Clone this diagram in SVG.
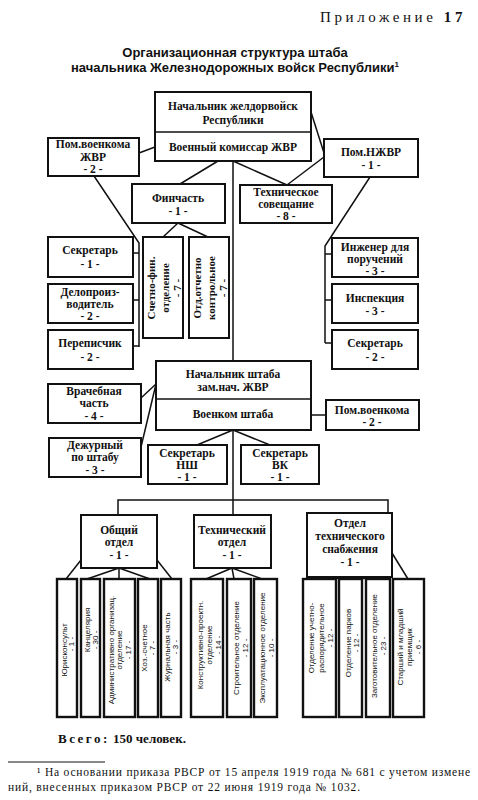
<svg xmlns="http://www.w3.org/2000/svg" width="478" height="800" viewBox="0 0 478 800">
<style>
.bx{fill:#fff;stroke:#111;stroke-width:2}
.sb{fill:#fff;stroke:#111;stroke-width:2.4}
.ln{stroke:#111;stroke-width:1.5;fill:none}
.t{font-family:"Liberation Serif",serif;font-weight:bold;font-size:11.5px;text-anchor:middle;fill:#111}
.tv{font-family:"Liberation Serif",serif;font-weight:bold;font-size:11px;text-anchor:middle;fill:#111}
.v{font-family:"Liberation Sans",sans-serif;font-size:8px;text-anchor:middle;fill:#111}
.ti{font-family:"Liberation Sans",sans-serif;font-weight:bold;font-size:13px;text-anchor:middle;fill:#111}
.fn{font-family:"Liberation Serif",serif;font-size:11.5px;fill:#111}
</style>
<rect width="478" height="800" fill="#fff"/>
<text x="320" y="22" style="font-family:'Liberation Serif',serif;font-size:15px;letter-spacing:3.6px;fill:#111">Приложение <tspan font-weight="bold">17</tspan></text>
<text class="ti" x="235" y="57">Организационная структура штаба</text>
<text class="ti" x="235" y="72">начальника Железнодорожных войск Республики<tspan font-size="8" dy="-5">1</tspan></text>

<g id="connectors">
<line class="ln" x1="233" y1="161" x2="233" y2="361"/>
<line class="ln" x1="139" y1="153" x2="155" y2="147"/>
<line class="ln" x1="311" y1="112" x2="324" y2="153"/>
<line class="ln" x1="324" y1="157" x2="287" y2="185"/>
<line class="ln" x1="233" y1="161" x2="287" y2="185"/>
<line class="ln" x1="218" y1="161" x2="180" y2="184"/>
<line class="ln" x1="178" y1="223" x2="163" y2="237"/>
<line class="ln" x1="178" y1="223" x2="208" y2="237"/>
<polyline class="ln" points="94,176 139,243 139,347"/>
<line class="ln" x1="133" y1="253" x2="139" y2="253"/>
<line class="ln" x1="133" y1="300" x2="139" y2="300"/>
<line class="ln" x1="133" y1="346" x2="139" y2="346"/>
<polyline class="ln" points="370,177 325,246 325,343"/>
<line class="ln" x1="325" y1="254" x2="332" y2="254"/>
<line class="ln" x1="325" y1="300" x2="332" y2="300"/>
<line class="ln" x1="325" y1="343" x2="332" y2="343"/>
<line class="ln" x1="141" y1="398" x2="156" y2="384"/>
<line class="ln" x1="141" y1="447" x2="156" y2="384"/>
<line class="ln" x1="311" y1="415" x2="326" y2="415"/>
<line class="ln" x1="233" y1="430" x2="197" y2="445"/>
<line class="ln" x1="233" y1="430" x2="270" y2="445"/>
<line class="ln" x1="233" y1="430" x2="233" y2="500"/>
<polyline class="ln" points="118,514 118,500 388,500 388,513"/>
<line class="ln" x1="233" y1="500" x2="233" y2="515"/>
<line class="ln" x1="119" y1="568" x2="87" y2="579"/>
<line class="ln" x1="119" y1="568" x2="119" y2="579"/>
<line class="ln" x1="119" y1="568" x2="150" y2="579"/>
<line class="ln" x1="81" y1="560" x2="66" y2="579"/>
<line class="ln" x1="157" y1="560" x2="172" y2="579"/>
<line class="ln" x1="232" y1="568" x2="206" y2="579"/>
<line class="ln" x1="232" y1="568" x2="234" y2="579"/>
<line class="ln" x1="232" y1="568" x2="262" y2="579"/>
<line class="ln" x1="350" y1="577" x2="320" y2="580"/>
<line class="ln" x1="350" y1="577" x2="350" y2="580"/>
<line class="ln" x1="350" y1="577" x2="380" y2="580"/>
<line class="ln" x1="392" y1="553" x2="408" y2="579"/>
</g>

<g id="n-chief">
<rect class="bx" x="155" y="92" width="156" height="69"/>
<line class="ln" x1="155" y1="132" x2="311" y2="132" stroke-width="2"/>
<text class="t" x="233" y="110" font-size="12">Начальник желдорвойск</text>
<text class="t" x="233" y="124" font-size="12">Республики</text>
<text class="t" x="233" y="151" font-size="12">Военный комиссар ЖВР</text>
</g>
<g id="n-pomvoenkom">
<rect class="bx" x="48" y="138" width="91" height="38"/>
<text class="t" x="93" y="148">Пом.военкома</text>
<text class="t" x="93" y="161">ЖВР</text>
<text class="t" x="93" y="173">- 2 -</text>
</g>
<g id="n-pomnzhvr">
<rect class="bx" x="324" y="139" width="94" height="38"/>
<text class="t" x="371" y="156">Пом.НЖВР</text>
<text class="t" x="371" y="169">- 1 -</text>
</g>
<g id="n-finchast">
<rect class="bx" x="132" y="184" width="93" height="39"/>
<text class="t" x="178" y="202">Финчасть</text>
<text class="t" x="178" y="215">- 1 -</text>
</g>
<g id="n-tehsov">
<rect class="bx" x="240" y="185" width="92" height="38"/>
<text class="t" x="286" y="196">Техническое</text>
<text class="t" x="286" y="208">совещание</text>
<text class="t" x="286" y="220">- 8 -</text>
</g>
<g id="n-sekr1">
<rect class="bx" x="48" y="237" width="85" height="40"/>
<text class="t" x="90" y="254">Секретарь</text>
<text class="t" x="90" y="268">- 1 -</text>
</g>
<g id="n-delo">
<rect class="bx" x="48" y="284" width="85" height="39"/>
<text class="t" x="90" y="296">Делопроиз-</text>
<text class="t" x="90" y="308">водитель</text>
<text class="t" x="90" y="320">- 2 -</text>
</g>
<g id="n-perep">
<rect class="bx" x="48" y="330" width="85" height="39"/>
<text class="t" x="90" y="347">Переписчик</text>
<text class="t" x="90" y="361">- 2 -</text>
</g>
<g id="n-schetno">
<rect class="bx" x="143" y="237" width="40" height="101"/>
<text class="tv" transform="rotate(-90 155 288)" x="155" y="288">Счетно-фин.</text>
<text class="tv" transform="rotate(-90 169 288)" x="169" y="288">отделение</text>
<text class="tv" transform="rotate(-90 181 288)" x="181" y="288">- 7 -</text>
</g>
<g id="n-otdotch">
<rect class="bx" x="189" y="237" width="40" height="101"/>
<text class="tv" transform="rotate(-90 201 288)" x="201" y="288">Отд.отчетно</text>
<text class="tv" transform="rotate(-90 215 288)" x="215" y="288">контрольное</text>
<text class="tv" transform="rotate(-90 227 288)" x="227" y="288">- 7 -</text>
</g>
<g id="n-inzh">
<rect class="bx" x="332" y="238" width="86" height="39"/>
<text class="t" x="375" y="251">Инженер для</text>
<text class="t" x="375" y="263">поручений</text>
<text class="t" x="375" y="275">- 3 -</text>
</g>
<g id="n-insp">
<rect class="bx" x="332" y="284" width="86" height="39"/>
<text class="t" x="375" y="302">Инспекция</text>
<text class="t" x="375" y="315">- 3 -</text>
</g>
<g id="n-sekr2">
<rect class="bx" x="332" y="330" width="86" height="39"/>
<text class="t" x="375" y="347">Секретарь</text>
<text class="t" x="375" y="361">- 2 -</text>
</g>
<g id="n-nsh">
<rect class="bx" x="156" y="361" width="155" height="69"/>
<line class="ln" x1="156" y1="399" x2="311" y2="399" stroke-width="2"/>
<text class="t" x="233" y="378">Начальник штаба</text>
<text class="t" x="233" y="391">зам.нач. ЖВР</text>
<text class="t" x="233" y="418">Военком штаба</text>
</g>
<g id="n-vrach">
<rect class="bx" x="48" y="384" width="93" height="39"/>
<text class="t" x="94" y="395">Врачебная</text>
<text class="t" x="94" y="407">часть</text>
<text class="t" x="94" y="420">- 4 -</text>
</g>
<g id="n-dezh">
<rect class="bx" x="49" y="438" width="92" height="39"/>
<text class="t" x="95" y="449">Дежурный</text>
<text class="t" x="95" y="461">по штабу</text>
<text class="t" x="95" y="474">- 3 -</text>
</g>
<g id="n-pomvoenkom2">
<rect class="bx" x="326" y="400" width="93" height="30"/>
<text class="t" x="372" y="414">Пом.военкома</text>
<text class="t" x="372" y="426">- 2 -</text>
</g>
<g id="n-sekrnsh">
<rect class="bx" x="148" y="445" width="79" height="39"/>
<text class="t" x="187" y="457">Секретарь</text>
<text class="t" x="187" y="469">НШ</text>
<text class="t" x="187" y="481">- 1 -</text>
</g>
<g id="n-sekrvk">
<rect class="bx" x="241" y="445" width="78" height="39"/>
<text class="t" x="280" y="457">Секретарь</text>
<text class="t" x="280" y="469">ВК</text>
<text class="t" x="280" y="481">- 1 -</text>
</g>
<g id="n-obshiy">
<rect class="bx" x="81" y="515" width="76" height="53"/>
<text class="t" x="119" y="534">Общий</text>
<text class="t" x="119" y="546">отдел</text>
<text class="t" x="119" y="559">- 1 -</text>
</g>
<g id="n-tehotd">
<rect class="bx" x="194" y="515" width="77" height="53"/>
<text class="t" x="232" y="534">Технический</text>
<text class="t" x="232" y="546">отдел</text>
<text class="t" x="232" y="559">- 1 -</text>
</g>
<g id="n-snab">
<rect class="bx" x="307" y="513" width="85" height="64"/>
<text class="t" x="350" y="527">Отдел</text>
<text class="t" x="350" y="540">технического</text>
<text class="t" x="350" y="553">снабжения</text>
<text class="t" x="350" y="566">- 1 -</text>
</g>

<g id="n-b1"><rect class="sb" x="57" y="579" width="20" height="138"/>
<text class="v" transform="rotate(-90 67 650)" x="67" y="650">Юрисконсульт</text>
<text class="v" transform="rotate(-90 74 644)" x="74" y="644">- 1 -</text></g>
<g id="n-b2"><rect class="sb" x="81" y="579" width="19" height="138"/>
<text class="v" transform="rotate(-90 90 630)" x="90" y="630">Канцелярия</text>
<text class="v" transform="rotate(-90 98 640)" x="98" y="640">- 30 -</text></g>
<g id="n-b3"><rect class="sb" x="104" y="579" width="31" height="138"/>
<text class="v" transform="rotate(-90 114 650)" x="114" y="650">Административно организац.</text>
<text class="v" transform="rotate(-90 122 650)" x="122" y="650">отделение</text>
<text class="v" transform="rotate(-90 131 650)" x="131" y="650">- 17 -</text></g>
<g id="n-b4"><rect class="sb" x="138" y="579" width="20" height="138"/>
<text class="v" transform="rotate(-90 147 648)" x="147" y="648">Хоз.-счетное</text>
<text class="v" transform="rotate(-90 155 648)" x="155" y="648">- 7 -</text></g>
<g id="n-b5"><rect class="sb" x="161" y="579" width="20" height="138"/>
<text class="v" transform="rotate(-90 170 647)" x="170" y="647">Журнальная часть</text>
<text class="v" transform="rotate(-90 178 647)" x="178" y="647">- 3 -</text></g>
<g id="n-b6"><rect class="sb" x="191" y="579" width="32" height="138"/>
<text class="v" transform="rotate(-90 203 645)" x="203" y="645">Конструктивно-проектн.</text>
<text class="v" transform="rotate(-90 212 645)" x="212" y="645">отделение</text>
<text class="v" transform="rotate(-90 221 645)" x="221" y="645">- 14 -</text></g>
<g id="n-b7"><rect class="sb" x="227" y="579" width="24" height="138"/>
<text class="v" transform="rotate(-90 239 648)" x="239" y="648">Строительное отделение</text>
<text class="v" transform="rotate(-90 248 648)" x="248" y="648">- 12 -</text></g>
<g id="n-b8"><rect class="sb" x="254" y="579" width="23" height="138"/>
<text class="v" transform="rotate(-90 265 648)" x="265" y="648">Эксплуатационное отделение</text>
<text class="v" transform="rotate(-90 274 648)" x="274" y="648">- 10 -</text></g>
<g id="n-b9"><rect class="sb" x="303" y="579" width="33" height="138"/>
<text class="v" transform="rotate(-90 314 638)" x="314" y="638">Отделение учетно-</text>
<text class="v" transform="rotate(-90 324 638)" x="324" y="638">распорядительное</text>
<text class="v" transform="rotate(-90 333 638)" x="333" y="638">- 12 -</text></g>
<g id="n-b10"><rect class="sb" x="339" y="579" width="23" height="138"/>
<text class="v" transform="rotate(-90 351 643)" x="351" y="643">Отделение парков</text>
<text class="v" transform="rotate(-90 359 643)" x="359" y="643">- 12 -</text></g>
<g id="n-b11"><rect class="sb" x="366" y="579" width="24" height="138"/>
<text class="v" transform="rotate(-90 377 646)" x="377" y="646">Заготовительное отделение</text>
<text class="v" transform="rotate(-90 386 646)" x="386" y="646">- 23 -</text></g>
<g id="n-b12"><rect class="sb" x="393" y="579" width="31" height="138"/>
<text class="v" transform="rotate(-90 403 647)" x="403" y="647">Старший и младший</text>
<text class="v" transform="rotate(-90 412 647)" x="412" y="647">приемщик</text>
<text class="v" transform="rotate(-90 421 647)" x="421" y="647">- 6 -</text></g>

<text x="58" y="743" style="font-family:'Liberation Serif',serif;font-weight:bold;font-size:13px;fill:#111"><tspan letter-spacing="2.5">Всего:</tspan> 150 человек.</text>
<line x1="8" y1="762" x2="105" y2="762" stroke="#111" stroke-width="1"/>
<text class="fn" x="37" y="776" textLength="433" lengthAdjust="spacing">¹ На основании приказа РВСР от 15 апреля 1919 года № 681 с учетом измене</text>
<text class="fn" x="8" y="791" textLength="352" lengthAdjust="spacing">ний, внесенных приказом РВСР от 22 июня 1919 года № 1032.</text>
</svg>
